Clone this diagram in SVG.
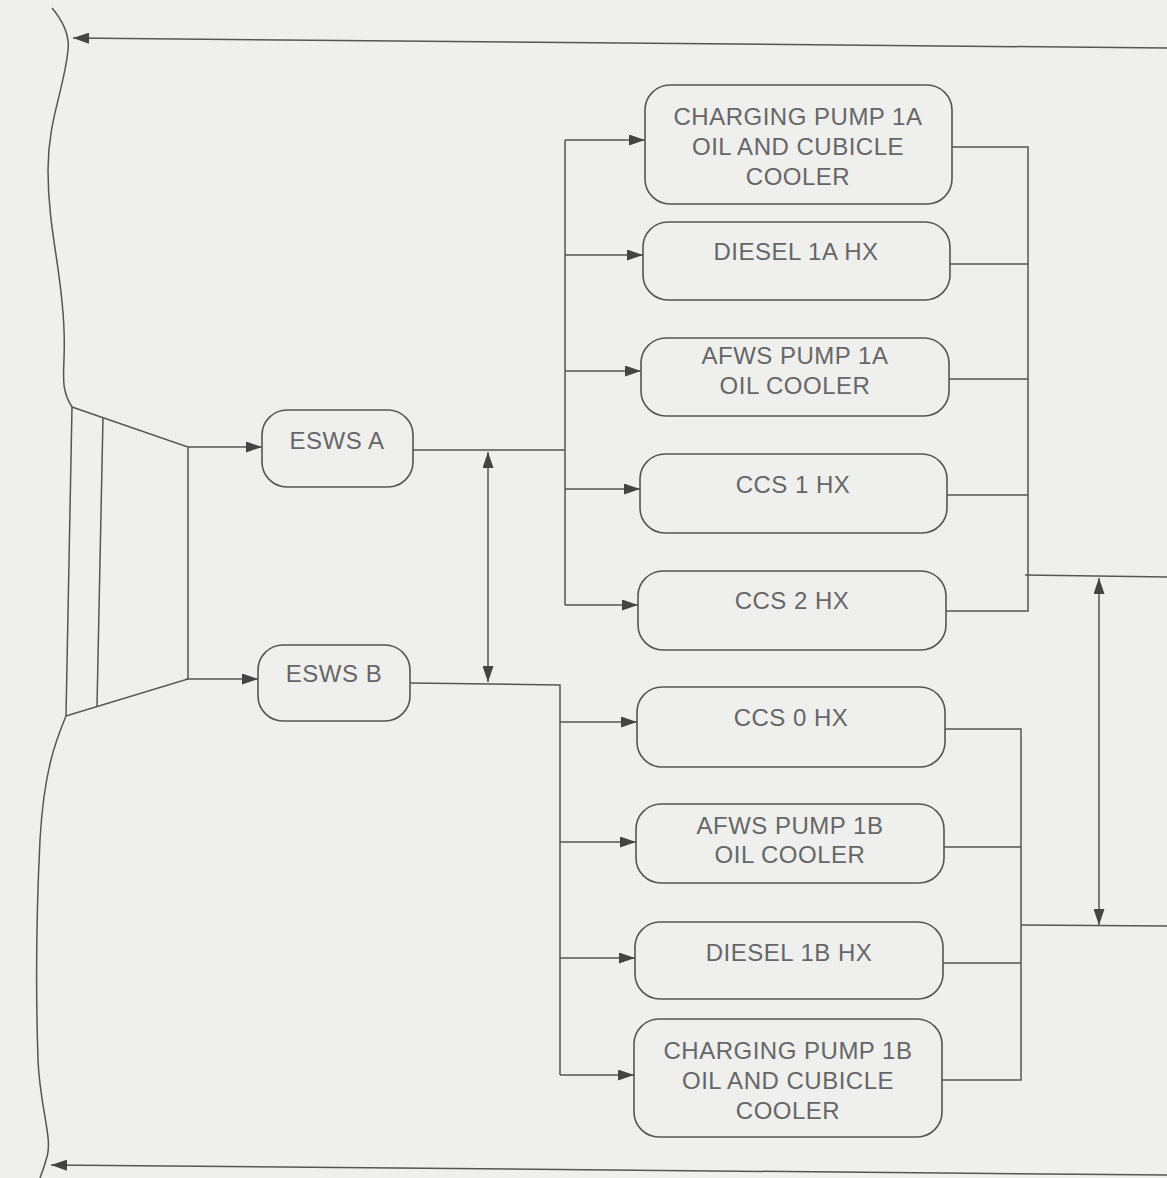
<svg xmlns="http://www.w3.org/2000/svg" width="1167" height="1178" viewBox="0 0 1167 1178">
<defs>
<style>
.bg{fill:#efefee}
.box{fill:none;stroke:#555;stroke-width:1.6}
.ln{fill:none;stroke:#555;stroke-width:1.5}
.t{font-family:"Liberation Sans",Arial,sans-serif;font-size:24px;fill:#666;text-anchor:middle;letter-spacing:0.5px}
</style>
<marker id="ah" viewBox="0 0 16 11" refX="16" refY="5.5" markerWidth="16" markerHeight="11" markerUnits="userSpaceOnUse" orient="auto-start-reverse">
<path d="M0,0 L16,5.5 L0,11 Z" fill="#444"/>
</marker>
</defs>
<rect class="bg" x="0" y="0" width="1167" height="1178"/>

<g id="boundary">
<path class="ln" d="M52,8 C62,20 70,34 68,50 C64,90 48,120 48,170 C48,230 62,270 64,330 C66,370 58,385 72,407"/>
<path class="ln" d="M66,716 C56,740 44,770 40,840 C36,920 36,1000 38,1060 C40,1110 54,1140 46,1160 C44,1168 42,1172 40,1178"/>
<path class="ln" d="M72,407 L188,447 L188,679 L66,716 Z"/>
<path class="ln" d="M103,417 L97,706"/>
</g>

<g id="esws-a"><rect class="box" x="262" y="410" width="151" height="77" rx="25"/><text class="t" x="337" y="449">ESWS A</text></g>
<g id="esws-b"><rect class="box" x="258" y="645" width="152" height="76" rx="25"/><text class="t" x="334" y="682">ESWS B</text></g>

<g id="charging-1a"><rect class="box" x="645" y="85" width="307" height="119" rx="25"/><text class="t" x="798" y="125">CHARGING PUMP 1A</text><text class="t" x="798" y="155">OIL AND CUBICLE</text><text class="t" x="798" y="185">COOLER</text></g>
<g id="diesel-1a"><rect class="box" x="643" y="222" width="307" height="78" rx="25"/><text class="t" x="796" y="260">DIESEL 1A HX</text></g>
<g id="afws-1a"><rect class="box" x="641" y="338" width="308" height="78" rx="25"/><text class="t" x="795" y="364">AFWS PUMP 1A</text><text class="t" x="795" y="394">OIL COOLER</text></g>
<g id="ccs-1"><rect class="box" x="640" y="454" width="307" height="79" rx="25"/><text class="t" x="793" y="493">CCS 1 HX</text></g>
<g id="ccs-2"><rect class="box" x="638" y="571" width="308" height="79" rx="25"/><text class="t" x="792" y="609">CCS 2 HX</text></g>
<g id="ccs-0"><rect class="box" x="637" y="687" width="308" height="80" rx="25"/><text class="t" x="791" y="726">CCS 0 HX</text></g>
<g id="afws-1b"><rect class="box" x="636" y="804" width="308" height="79" rx="25"/><text class="t" x="790" y="834">AFWS PUMP 1B</text><text class="t" x="790" y="863">OIL COOLER</text></g>
<g id="diesel-1b"><rect class="box" x="635" y="922" width="308" height="77" rx="25"/><text class="t" x="789" y="961">DIESEL 1B HX</text></g>
<g id="charging-1b"><rect class="box" x="634" y="1019" width="308" height="118" rx="25"/><text class="t" x="788" y="1059">CHARGING PUMP 1B</text><text class="t" x="788" y="1089">OIL AND CUBICLE</text><text class="t" x="788" y="1119">COOLER</text></g>

<g id="connectors">
<path class="ln" d="M1167,48 L73,38" marker-end="url(#ah)"/>
<path class="ln" d="M1167,1175 L51,1165" marker-end="url(#ah)"/>
<path class="ln" d="M188,447 L262,447" marker-end="url(#ah)"/>
<path class="ln" d="M186,679 L258,679" marker-end="url(#ah)"/>
<path class="ln" d="M413,450 L565,450"/>
<path class="ln" d="M565,140 L565,605"/>
<path class="ln" d="M565,140 L645,140" marker-end="url(#ah)"/>
<path class="ln" d="M565,255 L643,255" marker-end="url(#ah)"/>
<path class="ln" d="M565,371 L641,371" marker-end="url(#ah)"/>
<path class="ln" d="M565,489 L640,489" marker-end="url(#ah)"/>
<path class="ln" d="M565,605 L638,605" marker-end="url(#ah)"/>
<path class="ln" d="M488,452 L488,682" marker-start="url(#ah)" marker-end="url(#ah)"/>
<path class="ln" d="M410,683 L560,685 L560,1075"/>
<path class="ln" d="M560,722 L637,722" marker-end="url(#ah)"/>
<path class="ln" d="M560,842 L636,842" marker-end="url(#ah)"/>
<path class="ln" d="M560,958 L635,958" marker-end="url(#ah)"/>
<path class="ln" d="M560,1075 L634,1075" marker-end="url(#ah)"/>
<path class="ln" d="M952,147 L1028,147 L1028,611 L946,611"/>
<path class="ln" d="M950,264 L1028,264"/>
<path class="ln" d="M949,379 L1028,379"/>
<path class="ln" d="M947,495 L1028,495"/>
<path class="ln" d="M1025,575 L1167,577"/>
<path class="ln" d="M945,729 L1021,729 L1021,1080 L942,1080"/>
<path class="ln" d="M944,847 L1021,847"/>
<path class="ln" d="M943,963 L1021,963"/>
<path class="ln" d="M1021,925 L1167,926"/>
<path class="ln" d="M1099,578 L1099,925" marker-start="url(#ah)" marker-end="url(#ah)"/>
</g>
</svg>
